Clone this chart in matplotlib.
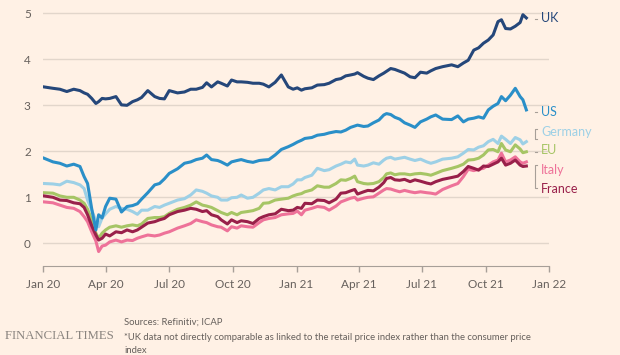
import matplotlib
matplotlib.use("Agg")
import matplotlib.pyplot as plt
import matplotlib.dates as mdates
import pandas as pd

# sample dates (roughly weekly, denser round the March 2020 crash)
dates = pd.to_datetime([
    "2020-01-02", "2020-01-15", "2020-01-25", "2020-02-04", "2020-02-14", "2020-02-23",
    "2020-02-29", "2020-03-05", "2020-03-11", "2020-03-17", "2020-03-21", "2020-03-26",
    "2020-03-31", "2020-04-06", "2020-04-15", "2020-04-23", "2020-05-01", "2020-05-09",
    "2020-05-16", "2020-05-22", "2020-05-31", "2020-06-10", "2020-06-17", "2020-06-24",
    "2020-07-01", "2020-07-13", "2020-07-23", "2020-08-01", "2020-08-09", "2020-08-18",
    "2020-08-24", "2020-08-31", "2020-09-09", "2020-09-14", "2020-09-23", "2020-09-29",
    "2020-10-07", "2020-10-13", "2020-10-22", "2020-10-30", "2020-11-08", "2020-11-14",
    "2020-11-22", "2020-12-01", "2020-12-10", "2020-12-20", "2020-12-27", "2021-01-02",
    "2021-01-08", "2021-01-13", "2021-01-23", "2021-01-31", "2021-02-10", "2021-02-17",
    "2021-02-27", "2021-03-06", "2021-03-13", "2021-03-20", "2021-03-26", "2021-03-30",
    "2021-04-08", "2021-04-14", "2021-04-22", "2021-04-30", "2021-05-07", "2021-05-11",
    "2021-05-17", "2021-05-23", "2021-05-30", "2021-06-06", "2021-06-14", "2021-06-21",
    "2021-06-29", "2021-07-08", "2021-07-14", "2021-07-21", "2021-07-31", "2021-08-13",
    "2021-08-22", "2021-08-30", "2021-09-06", "2021-09-14", "2021-09-21", "2021-09-28",
    "2021-10-05", "2021-10-12", "2021-10-19", "2021-10-24", "2021-10-30", "2021-11-06",
    "2021-11-13", "2021-11-20", "2021-11-24", "2021-11-29",
])

uk = [3.40, 3.37, 3.35, 3.30, 3.35, 3.32, 3.27, 3.24, 3.15, 3.04, 3.08, 3.15,
      3.14, 3.15, 3.19, 3.01, 3.00, 3.08, 3.12, 3.17, 3.32, 3.19, 3.15, 3.14,
      3.32, 3.27, 3.29, 3.35, 3.35, 3.39, 3.49, 3.40, 3.51, 3.48, 3.42, 3.55,
      3.51, 3.51, 3.50, 3.48, 3.48, 3.46, 3.40, 3.50, 3.66, 3.40, 3.35, 3.38,
      3.33, 3.36, 3.38, 3.44, 3.45, 3.48, 3.56, 3.58, 3.64, 3.66, 3.68, 3.71,
      3.63, 3.59, 3.56, 3.64, 3.70, 3.74, 3.80, 3.78, 3.74, 3.70, 3.62, 3.60,
      3.72, 3.70, 3.75, 3.80, 3.84, 3.88, 3.84, 3.92, 3.98, 4.20, 4.25, 4.35,
      4.42, 4.53, 4.82, 4.86, 4.67, 4.66, 4.72, 4.80, 4.97, 4.90]

us = [1.85, 1.77, 1.74, 1.68, 1.72, 1.67, 1.45, 1.30, 0.75, 0.29, 0.62, 0.55,
      0.80, 0.98, 0.96, 0.68, 0.80, 0.82, 0.86, 0.96, 1.10, 1.27, 1.30, 1.40,
      1.52, 1.62, 1.74, 1.77, 1.82, 1.85, 1.92, 1.82, 1.80, 1.77, 1.70, 1.77,
      1.80, 1.82, 1.78, 1.76, 1.80, 1.81, 1.82, 1.92, 2.04, 2.10, 2.15, 2.20,
      2.24, 2.28, 2.30, 2.35, 2.37, 2.40, 2.43, 2.42, 2.46, 2.52, 2.55, 2.57,
      2.54, 2.55, 2.62, 2.68, 2.79, 2.82, 2.80, 2.74, 2.70, 2.62, 2.57, 2.52,
      2.64, 2.70, 2.75, 2.79, 2.70, 2.69, 2.77, 2.64, 2.70, 2.72, 2.75, 2.72,
      2.90, 2.98, 3.04, 3.19, 3.10, 3.22, 3.37, 3.19, 3.12, 2.90]

germany = [1.30, 1.29, 1.27, 1.35, 1.32, 1.27, 1.19, 0.94, 0.72, 0.48, 0.36, 0.55,
           0.64, 0.74, 0.80, 0.76, 0.74, 0.69, 0.63, 0.72, 0.72, 0.80, 0.78, 0.83,
           0.87, 0.94, 0.97, 1.05, 1.16, 1.13, 1.09, 1.03, 1.00, 0.94, 0.94, 0.99,
           1.00, 1.05, 0.98, 1.00, 1.09, 1.16, 1.19, 1.16, 1.23, 1.23, 1.29, 1.38,
           1.38, 1.43, 1.48, 1.63, 1.58, 1.60, 1.68, 1.72, 1.77, 1.75, 1.83, 1.70,
           1.68, 1.70, 1.75, 1.72, 1.81, 1.85, 1.87, 1.83, 1.85, 1.87, 1.83, 1.80,
           1.83, 1.77, 1.74, 1.77, 1.83, 1.85, 1.88, 1.96, 2.04, 2.03, 2.09, 2.12,
           2.21, 2.26, 2.17, 2.33, 2.26, 2.17, 2.30, 2.25, 2.16, 2.21]

eu = [1.10, 1.09, 1.03, 1.00, 1.00, 0.94, 0.87, 0.74, 0.51, 0.22, 0.11, 0.22,
      0.29, 0.35, 0.38, 0.35, 0.38, 0.40, 0.38, 0.42, 0.54, 0.56, 0.56, 0.58,
      0.65, 0.74, 0.78, 0.83, 0.90, 0.83, 0.81, 0.78, 0.71, 0.67, 0.62, 0.67,
      0.62, 0.67, 0.69, 0.71, 0.76, 0.87, 0.88, 0.94, 0.96, 0.98, 1.03, 1.06,
      1.08, 1.12, 1.16, 1.25, 1.22, 1.22, 1.30, 1.38, 1.37, 1.41, 1.46, 1.34,
      1.30, 1.29, 1.30, 1.34, 1.43, 1.51, 1.53, 1.49, 1.51, 1.51, 1.49, 1.51,
      1.52, 1.50, 1.48, 1.52, 1.58, 1.63, 1.67, 1.72, 1.81, 1.82, 1.85, 1.92,
      2.03, 2.04, 1.99, 2.17, 2.03, 1.99, 2.14, 2.05, 1.97, 1.99]

france = [1.03, 1.00, 0.94, 0.93, 0.88, 0.86, 0.78, 0.62, 0.38, 0.18, 0.07, 0.11,
          0.20, 0.16, 0.25, 0.23, 0.29, 0.25, 0.29, 0.35, 0.44, 0.47, 0.51, 0.54,
          0.62, 0.69, 0.72, 0.76, 0.74, 0.69, 0.71, 0.62, 0.58, 0.51, 0.42, 0.51,
          0.45, 0.49, 0.47, 0.43, 0.54, 0.58, 0.62, 0.64, 0.74, 0.71, 0.72, 0.78,
          0.76, 0.87, 0.86, 0.94, 0.93, 0.88, 0.96, 1.09, 1.10, 1.14, 1.17, 1.07,
          1.12, 1.15, 1.14, 1.22, 1.32, 1.41, 1.43, 1.38, 1.37, 1.39, 1.34, 1.38,
          1.35, 1.31, 1.29, 1.34, 1.39, 1.43, 1.46, 1.56, 1.67, 1.63, 1.59, 1.68,
          1.67, 1.72, 1.77, 1.85, 1.70, 1.74, 1.81, 1.70, 1.67, 1.68]

italy = [0.90, 0.88, 0.83, 0.78, 0.76, 0.69, 0.58, 0.47, 0.25, 0.05, -0.18, -0.06,
         -0.04, 0.03, 0.07, 0.03, 0.07, 0.06, 0.11, 0.14, 0.18, 0.16, 0.18, 0.22,
         0.25, 0.33, 0.38, 0.43, 0.51, 0.47, 0.45, 0.40, 0.36, 0.35, 0.27, 0.36,
         0.33, 0.38, 0.36, 0.35, 0.45, 0.51, 0.54, 0.56, 0.62, 0.64, 0.65, 0.70,
         0.62, 0.72, 0.76, 0.80, 0.78, 0.72, 0.81, 0.90, 0.94, 0.98, 1.00, 0.94,
         0.98, 1.00, 1.01, 1.09, 1.16, 1.19, 1.18, 1.15, 1.12, 1.15, 1.12, 1.10,
         1.12, 1.10, 1.09, 1.07, 1.17, 1.25, 1.30, 1.45, 1.61, 1.58, 1.61, 1.63,
         1.70, 1.77, 1.81, 1.96, 1.77, 1.81, 1.88, 1.77, 1.74, 1.77]

bg = "#fff1e5"
grey = "#66605c"
c_uk, c_us, c_de = "#25477a", "#2a8fc8", "#9dd0e6"
c_eu, c_fr, c_it = "#a6c565", "#99204a", "#ee7299"

plt.rcParams["font.family"] = ["Lato", "DejaVu Sans"]

fig = plt.figure(figsize=(6.2, 3.55), dpi=100, facecolor=bg)
ax = fig.add_axes([0.0698, 0.2499, 0.816, 0.719], facecolor=bg)

lw = 2.2
ax.plot(dates, germany, color=c_de, lw=lw)
ax.plot(dates, eu, color=c_eu, lw=lw)
ax.plot(dates, italy, color=c_it, lw=lw)
ax.plot(dates, france, color=c_fr, lw=lw)
ax.plot(dates, us, color=c_us, lw=lw)
ax.plot(dates, uk, color=c_uk, lw=lw)

ax.set_xlim(pd.Timestamp("2020-01-01"), pd.Timestamp("2022-01-01"))
ax.set_ylim(-0.5, 5.05)
ax.set_yticks([0, 1, 2, 3, 4, 5])
ax.grid(axis="y", color="#e2d6cb", lw=1)
ax.set_axisbelow(True)

ax.xaxis.set_major_locator(mdates.MonthLocator(bymonth=[1, 4, 7, 10]))
ax.xaxis.set_major_formatter(mdates.DateFormatter("%b %y"))

for s in ["top", "right", "left"]:
    ax.spines[s].set_visible(False)
ax.spines["bottom"].set_color("#a79f98")
ax.tick_params(axis="x", colors="#a79f98", length=4, width=1, labelcolor=grey,
               labelsize=8.5, pad=5)
ax.tick_params(axis="y", length=0, labelcolor=grey, labelsize=8.5, pad=9)

# labels at the line ends
lx = pd.Timestamp("2021-12-20")
bx = pd.Timestamp("2021-12-11")
bx2 = pd.Timestamp("2021-12-14")
labels = [("UK", 4.90, c_uk), ("US", 2.86, c_us), ("Germany", 2.43, c_de),
          ("EU", 2.03, c_eu), ("Italy", 1.59, c_it), ("France", 1.17, c_fr)]
for name, yv, col in labels:
    ax.text(lx, yv, name, color=col, fontsize=9, va="center", ha="left", clip_on=False)

lead = "#a79f98"
for yv in [4.87, 2.86, 1.99]:
    ax.plot([bx, bx2], [yv, yv], color=lead, lw=0.8, clip_on=False)
# brackets for Germany and Italy/France
ax.plot([bx2, bx, bx, bx2], [2.48, 2.48, 2.26, 2.26], color=lead, lw=0.8, clip_on=False)
ax.plot([bx2, bx, bx, bx2], [1.70, 1.70, 1.20, 1.20], color=lead, lw=0.8, clip_on=False)

fig.text(0.008, 0.053, "FINANCIAL TIMES", family="Liberation Serif", fontsize=9.2,
         color="#8a847f", va="center")
fig.text(0.2, 0.092, "Sources: Refinitiv; ICAP", fontsize=6.8, color=grey, va="center")
fig.text(0.2, 0.050, "*UK data not directly comparable as linked to the retail price index "
         "rather than the consumer price", fontsize=6.8, color=grey, va="center")
fig.text(0.2, 0.012, "index", fontsize=6.8, color=grey, va="center")

fig.savefig("out.png", dpi=100, facecolor=bg)
